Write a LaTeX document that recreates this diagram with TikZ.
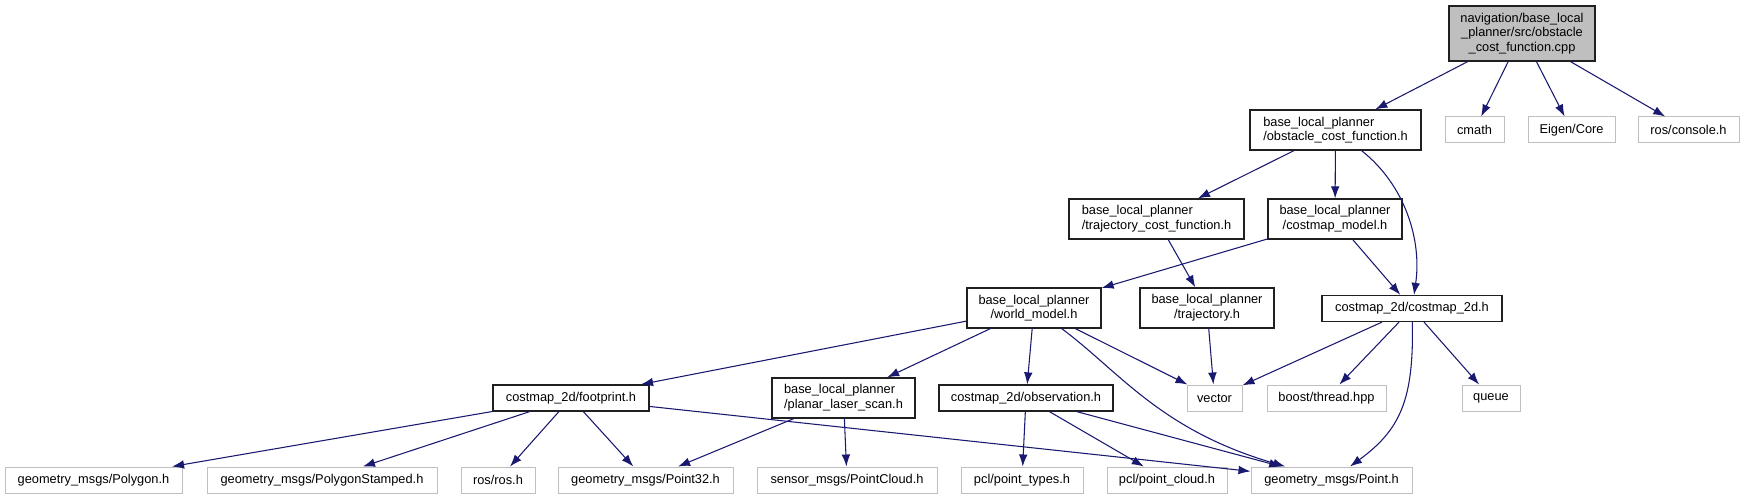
\documentclass[tikz,border=0pt]{standalone}
\usepackage{fontspec}
\setmainfont{Liberation Sans}
\usetikzlibrary{arrows.meta}
\definecolor{edgeblue}{HTML}{191970}
\definecolor{extline}{HTML}{BFBFBF}
\definecolor{rootfill}{HTML}{BFBFBF}
\definecolor{hdrline}{HTML}{202020}
\tikzset{
  base/.style = {rectangle, inner sep=1pt, font=\fontsize{9.6pt}{11pt}\selectfont},
  hdr/.style  = {base, draw=hdrline, line width=0.95pt, fill=white, minimum height=30pt},
  ext/.style  = {base, draw=extline, line width=0.75pt, fill=white, minimum height=19.5pt},
  src/.style  = {base, draw=hdrline, line width=0.95pt, fill=rootfill,
                 minimum height=41.25pt, align=center},
  one/.style  = {minimum height=19.5pt},
  wd/.style   = {minimum width=#1*0.75pt},
  ar/.style   = {-{Latex[length=9pt,width=6.5pt]}, line width=0.8pt, draw=edgeblue},
}

\begin{document}
\begin{tikzpicture}[x=0.75pt, y=-0.75pt]
  \useasboundingbox (0,0) rectangle (1744,499);

  % ----- source file -----
  \node[src, wd=146] (root) at (1522,33.5)
       {navigation/base\_local\\\_planner/src/obstacle\\\_cost\_function.cpp};

  % ----- direct includes -----
  \node[hdr, wd=171, align=left] (ocf) at (1335.5,130)
       {base\_local\_planner\\/obstacle\_cost\_function.h};
  \node[ext, wd=59]  (cmath)   at (1474.5,130) {cmath};
  \node[ext, wd=87]  (eigen)   at (1571.5,130) {Eigen/Core};
  \node[ext, wd=101] (console) at (1688.5,130) {ros/console.h};

  % ----- second level -----
  \node[hdr, wd=175, align=left]   (tcf) at (1156.5,219)
       {base\_local\_planner\\/trajectory\_cost\_function.h};
  \node[hdr, wd=134, align=center] (cmm) at (1335,219)
       {base\_local\_planner\\/costmap\_model.h};

  % ----- third level -----
  \node[hdr, wd=134, align=center] (wm)   at (1034,308)
       {base\_local\_planner\\/world\_model.h};
  \node[hdr, wd=134, align=center] (traj) at (1207,308)
       {base\_local\_planner\\/trajectory.h};
  \node[hdr, one, wd=180] (c2d) at (1412,308.5) {costmap\_2d/costmap\_2d.h};

  % ----- fourth level -----
  \node[hdr, one, wd=156] (fp)  at (571,398) {costmap\_2d/footprint.h};
  \node[hdr, wd=143, align=left] (pls) at (843.5,398)
       {base\_local\_planner\\/planar\_laser\_scan.h};
  \node[hdr, one, wd=174] (obs) at (1026,398) {costmap\_2d/observation.h};
  \node[ext, wd=55]  (vec)   at (1214.5,398) {vector};
  \node[ext, wd=119] (boost) at (1326.5,398) {boost/thread.hpp};
  \node[ext, wd=58]  (queue) at (1491,398)   {queue};

  % ----- leaves -----
  \node[ext, wd=177] (poly)   at (93.5,480)   {geometry\_msgs/Polygon.h};
  \node[ext, wd=230] (polys)  at (322,480)    {geometry\_msgs/PolygonStamped.h};
  \node[ext, wd=74]  (ros)    at (498,480)    {ros/ros.h};
  \node[ext, wd=175] (p32)    at (645.5,480)  {geometry\_msgs/Point32.h};
  \node[ext, wd=180] (pcl)    at (847,480)    {sensor\_msgs/PointCloud.h};
  \node[ext, wd=122] (ptypes) at (1022,480)   {pcl/point\_types.h};
  \node[ext, wd=120] (pcloud) at (1167,480)   {pcl/point\_cloud.h};
  \node[ext, wd=161] (pt)     at (1331.5,480) {geometry\_msgs/Point.h};

  % ----- include edges -----
  \foreach \a/\b in {root/ocf, root/cmath, root/eigen, root/console,
                     ocf/tcf, ocf/cmm, tcf/traj, cmm/wm, cmm/c2d,
                     wm/fp, wm/pls, wm/obs, wm/vec, traj/vec,
                     c2d/vec, c2d/boost, c2d/queue,
                     fp/poly, fp/polys, fp/ros, fp/p32, fp/pt,
                     pls/p32, pls/pcl, obs/ptypes, obs/pcloud, obs/pt}
    {\draw[ar] (\a) -- (\b);}

  % curved ones
  \draw[ar] (ocf) .. controls (1405,185) and (1422,240) .. (c2d);
  \draw[ar] (wm) .. controls (1120,372) and (1160,430) .. (pt);
  \draw[ar] (c2d) .. controls (1414,400) and (1400,430) .. (pt);

\end{tikzpicture}
\end{document}
